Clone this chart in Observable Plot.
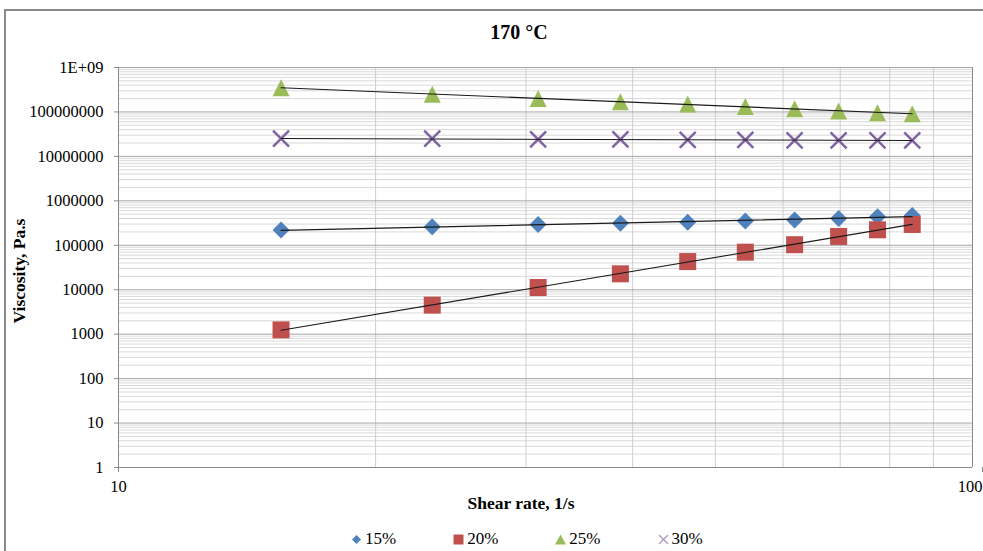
<!DOCTYPE html>
<html>
<head>
<meta charset="utf-8">
<script src="https://cdn.jsdelivr.net/npm/d3@7"></script>
<script src="https://cdn.jsdelivr.net/npm/@observablehq/plot@0.6"></script>
<style>
  body { margin: 0; background: #fff; }
  #wrap { position: relative; width: 983px; height: 551px; overflow: hidden; background: #fff;
          font-family: "Liberation Serif", "Times New Roman", serif; color: #000; }
  #wrap svg.plot { position: absolute; left: 0; top: 0; }
  .frame { position: absolute; left: 4px; top: 9px; width: 1000px; height: 600px;
           border-left: 2px solid #898989; border-top: 2px solid #898989; box-sizing: border-box; }
  .title { position: absolute; left: 319px; width: 400px; top: 20px; text-align: center;
           font-weight: bold; font-size: 20px; line-height: 24px; font-family: "Liberation Serif", serif; }
  .xlabel { position: absolute; left: 321px; width: 400px; top: 492px; text-align: center;
            font-weight: bold; font-size: 17.5px; line-height: 22px; font-family: "Liberation Serif", serif; }
  .ylabel { position: absolute; left: 19px; top: 271px; width: 0; height: 0; }
  .ylabel span { position: absolute; transform: translate(-50%, -50%) rotate(-90deg);
                 white-space: nowrap; font-weight: bold; font-size: 17.5px; line-height: 22px;
                 font-family: "Liberation Serif", serif; }
  .legend { position: absolute; left: 351px; top: 528px; display: flex; gap: 57px;
            font-size: 17px; line-height: 22px; font-family: "Liberation Serif", serif; }
  .legend .item { display: flex; align-items: center; gap: 3px; }
  .legend .item span { font-family: "Liberation Serif", serif; }
  .legend svg { display: block; }
</style>
</head>
<body>
<div id="wrap">
  <div class="frame"></div>
  <div class="title">170 °C</div>
  <div class="xlabel">Shear rate, 1/s</div>
  <div class="ylabel"><span>Viscosity, Pa.s</span></div>
  <div class="legend" id="legend"></div>
</div>
<script>
// ---- data ----
const shearRate = [15.5, 23.3, 31.0, 38.7, 46.4, 54.2, 61.9, 69.7, 77.4, 85.0];
const visc15 = [220000, 260000, 295000, 315000, 330000, 350000, 370000, 400000, 440000, 470000];
const visc20 = [1250, 4500, 11200, 22800, 43000, 70000, 103000, 158000, 223000, 294000];
const visc25 = [350000000, 250000000, 200000000, 170000000, 150000000, 133000000, 118000000, 105000000, 96000000, 91000000];
const visc30 = [25000000, 25000000, 24000000, 24000000, 23500000, 23500000, 23000000, 23000000, 23000000, 23000000];
const seriesNames = ["15%", "20%", "25%", "30%"];
const seriesColors = ["#4F81BD", "#C0504D", "#9BBB59", "#8064A2"];

const yTicks = [1, 10, 100, 1000, 10000, 100000, 1000000, 10000000, 100000000, 1000000000];
const yTickLabels = ["1", "10", "100", "1000", "10000", "100000", "1000000", "10000000", "100000000", "1E+09"];
const xTicks = [10, 100];
const xTickLabels = ["10", "100"];
const xMinor = [20, 30, 40, 50, 60, 70, 80, 90];
const minorMultipliers = [2, 3, 4, 5, 6, 7, 8, 9];

// ---- derived tables ----
const allValues = [visc15, visc20, visc25, visc30];
const points = allValues.map((vals, s) => vals.map((v, i) => ({x: shearRate[i], y: v, s})));
const yMinor = yTicks.slice(0, -1).flatMap(d => minorMultipliers.map(m => d * m));

// power-law trendline (least squares in log-log space), as Excel draws
function powerFit(xs, ys) {
  const lx = xs.map(Math.log), ly = ys.map(Math.log);
  const n = lx.length, mx = d3.mean(lx), my = d3.mean(ly);
  let sxy = 0, sxx = 0;
  for (let i = 0; i < n; i++) { sxy += (lx[i] - mx) * (ly[i] - my); sxx += (lx[i] - mx) ** 2; }
  const b = sxy / sxx, a = my - b * mx;
  const x0 = d3.min(xs), x1 = d3.max(xs);
  return [x0, x1].map(x => ({x, y: Math.exp(a + b * Math.log(x))}));
}
const trends = allValues.map(vals => powerFit(shearRate, vals));

// ---- Excel-like marker symbols ----
const sym = fn => ({draw(c, size) { const r = Math.sqrt(size / Math.PI); fn(c, r); }});
const symbols = [
  sym((c, r) => { c.moveTo(0, -r); c.lineTo(r, 0); c.lineTo(0, r); c.lineTo(-r, 0); c.closePath(); }),
  sym((c, r) => { c.rect(-r, -r, 2 * r, 2 * r); }),
  sym((c, r) => { c.moveTo(0, -r); c.lineTo(r, r); c.lineTo(-r, r); c.closePath(); }),
  sym((c, r) => { c.moveTo(-r, -r); c.lineTo(r, r); c.moveTo(r, -r); c.lineTo(-r, r); })
];
const radii = [8.5, 8.5, 8.5, 8];

const markMarks = points.map((pts, s) => s === 3
  ? Plot.dot(pts, {x: "x", y: "y", symbol: symbols[s], r: radii[s], fill: "none", stroke: seriesColors[s], strokeWidth: 2.5})
  : Plot.dot(pts, {x: "x", y: "y", symbol: symbols[s], r: radii[s], fill: seriesColors[s], stroke: "none"}));

const trendMarks = trends.map(t => Plot.line(t, {x: "x", y: "y", stroke: "#1a1a1a", strokeWidth: 1.1}));

const fmtX = d => xTickLabels[xTicks.indexOf(d)];

const chart = Plot.plot({
  width: 983,
  height: 551,
  marginLeft: 118,
  marginRight: 11,
  marginTop: 67,
  marginBottom: 84,
  x: {type: "log", domain: [10, 100]},
  y: {type: "log", domain: [1, 1e9]},
  style: {fontFamily: "'Liberation Serif', 'Times New Roman', serif", fontSize: "16.5px", color: "#000", background: "transparent"},
  marks: [
    Plot.ruleY(yMinor, {stroke: "#d9d9d9", strokeWidth: 1}),
    Plot.ruleX(xMinor, {stroke: "#cfcfcf", strokeWidth: 1}),
    Plot.ruleY(yTicks, {stroke: "#a6a6a6", strokeWidth: 1}),
    Plot.ruleX([100], {stroke: "#898989", strokeWidth: 1}),
    Plot.ruleX([10], {stroke: "#898989", strokeWidth: 1}),
    Plot.ruleY([1], {stroke: "#898989", strokeWidth: 1}),
    Plot.axisY({ticks: yTicks, tickFormat: d => yTickLabels[yTicks.indexOf(d)], tickSize: 4, tickPadding: 11, stroke: "#898989", label: null}),
    Plot.axisX({ticks: xTicks.slice(0, 1), tickFormat: fmtX, tickSize: 5, tickPadding: 8, stroke: "#898989", label: null}),
    Plot.axisX({ticks: xTicks.slice(1), tickFormat: fmtX, tickSize: 5, tickPadding: 8, stroke: "#898989", label: null, textAnchor: "end", dx: 10}),
    ...markMarks,
    ...trendMarks
  ]
});
chart.classList.add("plot");
document.getElementById("wrap").appendChild(chart);

// ---- legend ----
const legendPaths = [
  "M5,0.5L9.5,5L5,9.5L0.5,5Z",
  "M0,0H10V10H0Z",
  "M5,0L10.5,10H-0.5Z",
  "M0.5,0.5L9.5,9.5M9.5,0.5L0.5,9.5"
];
const legend = document.getElementById("legend");
seriesNames.forEach((name, s) => {
  const item = document.createElement("div");
  item.className = "item";
  const isStroke = s === 3;
  item.innerHTML = `<svg width="11" height="11" viewBox="-0.5 -0.5 11 11"><path d="${legendPaths[s]}" fill="${isStroke ? "none" : seriesColors[s]}" stroke="${isStroke ? "#A897C4" : "none"}" stroke-width="1.3"/></svg><span>${name}</span>`;
  legend.appendChild(item);
});
</script>
</body>
</html>
